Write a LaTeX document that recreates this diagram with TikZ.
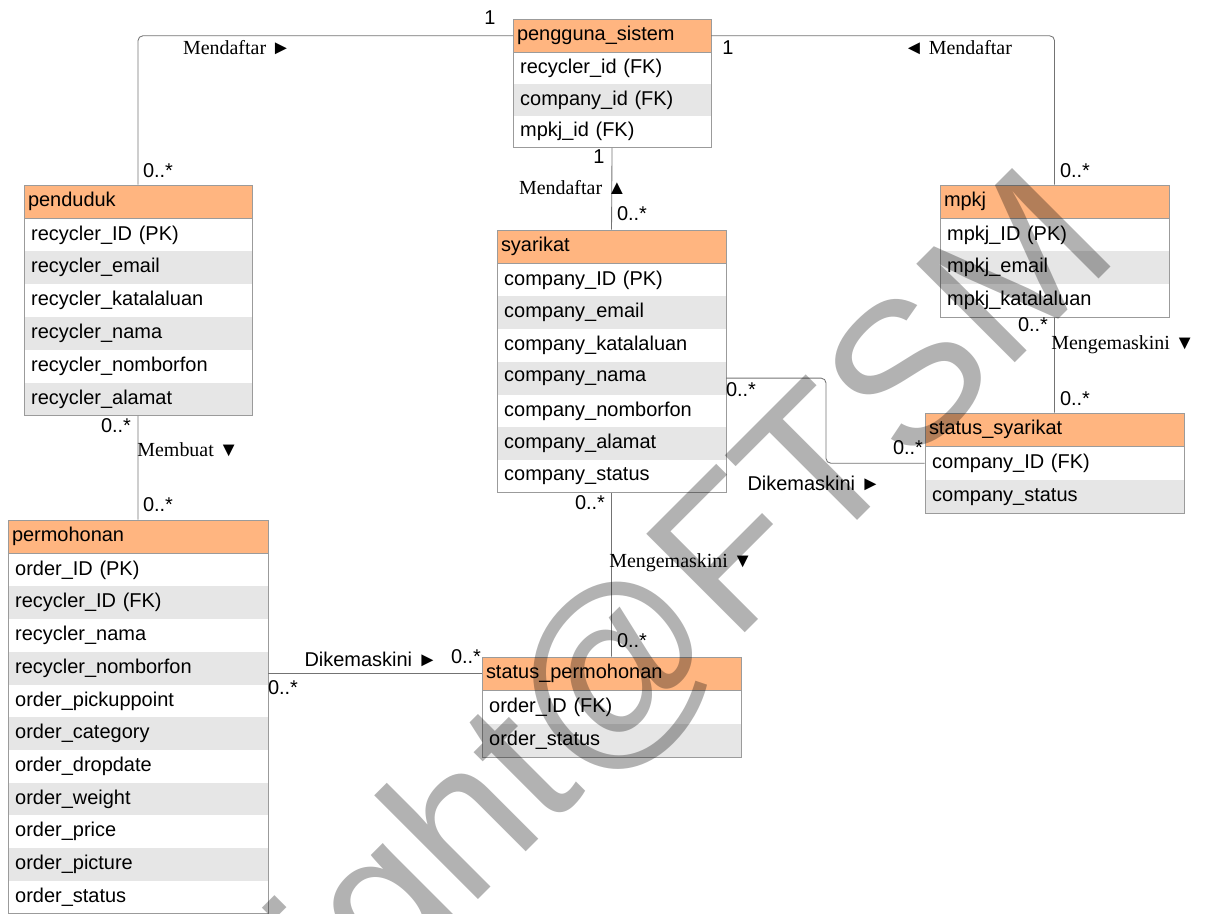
\documentclass[tikz,border=0pt]{standalone}
\usepackage{fontspec}
\setmainfont{Liberation Sans}
\newfontfamily\lblfont{Liberation Serif}
\usetikzlibrary{positioning,fit}

\definecolor{hdrorange}{RGB}{255,181,128}
\definecolor{rowgray}{RGB}{230,230,230}
\definecolor{boxgray}{RGB}{155,155,155}
\definecolor{linegray}{RGB}{115,115,115}

\tikzset{
  hdr/.style={anchor=north west, fill=hdrorange, draw=boxgray, line width=0.6pt,
    minimum height=0.84cm, inner xsep=0.1cm, inner ysep=0pt, outer sep=0pt,
    align=left, font=\fontsize{14.2}{17}\selectfont},
  rowa/.style={fill=white, inner xsep=0.18cm, inner ysep=0pt, outer sep=0pt,
    align=left, font=\fontsize{14.2}{17}\selectfont},
  rowb/.style={rowa, fill=rowgray},
  box/.style={draw=boxgray, line width=0.6pt, inner sep=0pt},
  conn/.style={draw=linegray, line width=0.6pt, rounded corners=0.12cm},
  mult/.style={inner sep=0pt, font=\fontsize{14.2}{17}\selectfont},
  role/.style={inner sep=0pt, font=\lblfont\fontsize{14.2}{17}\selectfont},
  wmark/.style={rotate=45, inner sep=0pt, text=black, text opacity=0.3,
    font=\fontsize{144}{144}\selectfont}
}

% name, corner, width, row height, rows, title, attributes
\newcommand{\umlclass}[7]{%
  \pgfmathsetmacro\hdw{#3-0.2}%
  \pgfmathsetmacro\roww{#3-0.36}%
  \node[hdr, text width=\hdw cm] (#1-0) at #2 {#6};
  \foreach \attr [count=\i] in {#7}{%
    \pgfmathtruncatemacro\j{\i-1}%
    \ifodd\i\relax\def\rs{rowa}\else\def\rs{rowb}\fi
    \node[\rs, text width=\roww cm, minimum height=#4, below=0pt of #1-\j] (#1-\i) {\attr};
  }%
  \node[box, fit=(#1-0)(#1-#5)] (#1) {};
}

\begin{document}
\begin{tikzpicture}[x=0.025cm, y=-0.025cm]
  \useasboundingbox (0,0) rectangle (1206,914);

  % classes
  \umlclass{pg}{(513,19)}{4.95}{0.79cm}{3}{pengguna\_sistem}
    {recycler\_id (FK), company\_id (FK), mpkj\_id (FK)}
  \umlclass{pd}{(24,185)}{5.7}{0.82cm}{6}{penduduk}
    {recycler\_ID (PK), recycler\_email, recycler\_katalaluan, recycler\_nama,
     recycler\_nomborfon, recycler\_alamat}
  \umlclass{mk}{(940,185)}{5.725}{0.82cm}{3}{mpkj}
    {mpkj\_ID (PK), mpkj\_email, mpkj\_katalaluan}
  \umlclass{sy}{(497,230)}{5.725}{0.818cm}{7}{syarikat}
    {company\_ID (PK), company\_email, company\_katalaluan, company\_nama,
     company\_nomborfon, company\_alamat, company\_status}
  \umlclass{ss}{(925,413)}{6.475}{0.835cm}{2}{status\_syarikat}
    {company\_ID (FK), company\_status}
  \umlclass{pm}{(8,520)}{6.5}{0.818cm}{11}{permohonan}
    {order\_ID (PK), recycler\_ID (FK), recycler\_nama, recycler\_nomborfon,
     order\_pickuppoint, order\_category, order\_dropdate, order\_weight,
     order\_price, order\_picture, order\_status}
  \umlclass{sp}{(482,657)}{6.475}{0.835cm}{2}{status\_permohonan}
    {order\_ID (FK), order\_status}

  % associations
  \draw[conn] (pg-0.west) -| (pd.north);
  \draw[conn] (pg-0.east) -| (mk.north);
  \draw[conn] (pg.south) -- (sy.north);
  \draw[conn] (pd.south) -- (pm.north);
  \draw[conn] (mk.south) -- (ss.north);
  \coordinate (kink) at (826,0);
  \draw[conn] (sy-4.east) -| (kink |- ss.west) -- (ss.west);
  \draw[conn] (sy.south) -- (sp.north);
  \draw[conn] (pm.east |- sp-0.west) -- (sp-0.west);

  % multiplicities
  \node[mult] (m1)  at (490,18)   {1};
  \node[mult] (m2)  at (158,171)  {0..*};
  \node[mult] (m3)  at (728,48)   {1};
  \node[mult] (m4)  at (1075,171) {0..*};
  \node[mult] (m5)  at (599,157)  {1};
  \node[mult] (m6)  at (632,214)  {0..*};
  \node[mult] (m7)  at (116,426)  {0..*};
  \node[mult] (m8)  at (158,505)  {0..*};
  \node[mult] (m9)  at (1033,325) {0..*};
  \node[mult] (m10) at (1075,399) {0..*};
  \node[mult] (m11) at (741,390)  {0..*};
  \node[mult] (m12) at (908,448)  {0..*};
  \node[mult] (m13) at (590,503)  {0..*};
  \node[mult] (m14) at (632,641)  {0..*};
  \node[mult] (m15) at (466,657)  {0..*};
  \node[mult] (m16) at (283,688)  {0..*};

  % association names
  \node[role] (r1) at (237,48)  {Mendaftar ►};
  \node[role] (r2) at (958,48)  {◄ Mendaftar};
  \node[role] (r3) at (573,188) {Mendaftar ▲};
  \node[role] (r4) at (188,450) {Membuat ▼};
  \node[role] (r5) at (1123,345) {Mengemaskini ▼};
  \node[role] (r6) at (681,563) {Mengemaskini ▼};
  \node[mult] (r7) at (814,483) {Dikemaskini ►};
  \node[mult] (r8) at (371,659) {Dikemaskini ►};

  % watermark
  \node[wmark] (wm) at (512,792) {Copyright@FTSM};
\end{tikzpicture}
\end{document}
